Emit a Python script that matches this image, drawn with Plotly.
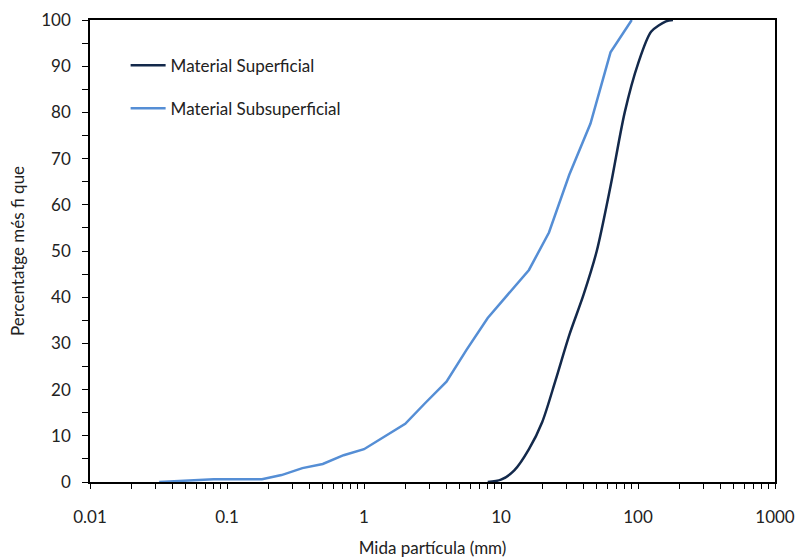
import plotly.graph_objects as go

# Data
sup_x = [8, 10, 12.5, 16, 20, 25, 31.5, 40, 50, 63, 80, 100, 125, 160, 180]
sup_y = [0, 0.5, 2.5, 7.1, 13, 22, 31.8, 40.5, 50, 64, 80, 90.5, 97.5, 99.7, 100]

sub_x = [0.032, 0.063, 0.08, 0.125, 0.18, 0.25, 0.355, 0.5, 0.71, 1, 2, 2.8, 4, 5.6, 8,
         16, 22.4, 31.5, 45, 63, 90]
sub_y = [0, 0.4, 0.6, 0.6, 0.6, 1.5, 3.0, 3.9, 5.8, 7.1, 12.6, 17.1, 21.7, 28.6, 35.5,
         45.9, 54, 66.5, 77.6, 93, 100]

x_tickvals = [0.01, 0.1, 1, 10, 100, 1000]
x_ticktext = ["0.01", "0.1", "1", "10", "100", "1000"]
x_minor = [m * 10 ** e for e in range(-2, 3) for m in range(2, 10)]

FONT = "Lato"
fig = go.Figure()
fig.add_trace(go.Scatter(x=sup_x, y=sup_y, mode="lines", name="Material Superficial",
                         legendgroup="a",
                         line=dict(color="#13294B", width=2.5, shape="spline", smoothing=0.8)))
fig.add_trace(go.Scatter(x=sub_x, y=sub_y, mode="lines", name="Material Subsuperficial",
                         legendgroup="b",
                         line=dict(color="#558ED5", width=2.5)))

fig.update_layout(
    width=797, height=558,
    margin=dict(l=90, r=22, t=20, b=76),
    paper_bgcolor="white", plot_bgcolor="white",
    font=dict(family=FONT, size=17, color="#222"),
    showlegend=True,
    legend=dict(x=0.052, y=0.94, xanchor="left", yanchor="top",
                bgcolor="rgba(0,0,0,0)", font=dict(size=17, family=FONT, color="#222"),
                tracegroupgap=18, itemwidth=35),
)
fig.update_xaxes(type="log", range=[-2, 3], tickvals=x_tickvals, ticktext=x_ticktext,
                 automargin=False,
                 showgrid=False, zeroline=False, showline=True, linecolor="black", linewidth=1.5,
                 mirror=True, ticks="outside", ticklen=5, tickcolor="black", tickwidth=1,
                 minor=dict(tickvals=x_minor, ticks="outside", ticklen=5, tickcolor="black", tickwidth=1),
                 ticklabelstandoff=14,
                 title=dict(text="Mida partícula (mm)", font=dict(size=17), standoff=20),
                 tickfont=dict(size=17))
fig.update_yaxes(range=[0, 100], dtick=10, showgrid=False, zeroline=False,
                 automargin=False,
                 showline=True, linecolor="black", linewidth=1.5, mirror=True,
                 ticks="outside", ticklen=6, tickcolor="black", tickwidth=1,
                 minor=dict(dtick=5, ticks="outside", ticklen=6, tickcolor="black", tickwidth=1),
                 ticklabelstandoff=8,
                 title=dict(text="Percentatge més fi que", font=dict(size=17), standoff=12),
                 tickfont=dict(size=17))

fig.write_html("out.html")
